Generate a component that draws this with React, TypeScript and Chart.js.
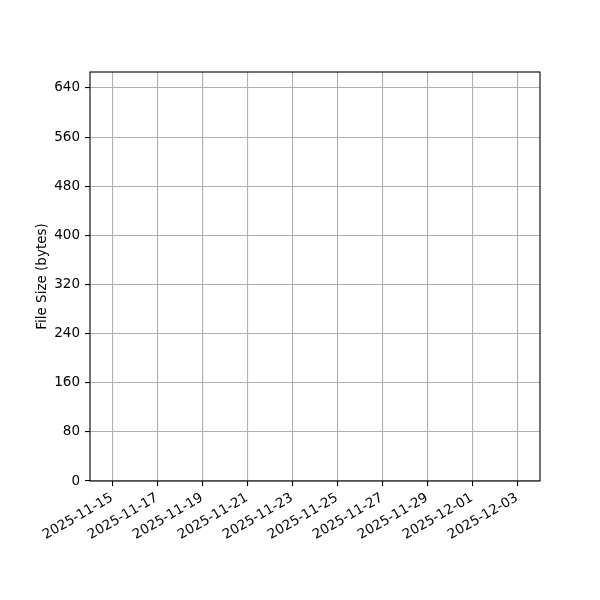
import React, { useEffect, useRef } from 'react';
import { Chart, registerables } from 'chart.js';

Chart.register(...registerables);

// The reference plot is empty: axes and grid only, no points.
const fileDates: string[] = [];
const fileSizes: number[] = [];

const baseDate = '2025-11-15';
const xTickDates = [
    '2025-11-15', '2025-11-17', '2025-11-19', '2025-11-21', '2025-11-23',
    '2025-11-25', '2025-11-27', '2025-11-29', '2025-12-01', '2025-12-03',
];
const yTickValues = [0, 80, 160, 240, 320, 400, 480, 560, 640];

// axis limits, in days from baseDate and in bytes
const xMinDays = -0.98;
const xMaxDays = 19.02;
const yMaxBytes = 666;

const dayOffset = (d: string) => (Date.parse(d) - Date.parse(baseDate)) / 86400000;

const FONT = 'DejaVu Sans';

// matplotlib draws all four spines
const framePlugin = {
    id: 'frame',
    afterDraw(chart: any) {
        const { ctx, chartArea: a } = chart;
        ctx.save();
        ctx.strokeStyle = '#000';
        ctx.lineWidth = 1.1;
        ctx.strokeRect(a.left, a.top, a.right - a.left, a.bottom - a.top);
        ctx.restore();
    },
};

const App: React.FC = () => {
    const canvasRef = useRef<HTMLCanvasElement>(null);
    const chartRef = useRef<Chart | null>(null);

    useEffect(() => {
        if (!canvasRef.current) return;
        if (chartRef.current) chartRef.current.destroy();

        const points = fileDates.map((d, i) => ({ x: dayOffset(d), y: fileSizes[i] }));

        chartRef.current = new Chart(canvasRef.current, {
            type: 'line',
            data: {
                datasets: [{
                    label: 'File Size',
                    data: points,
                    borderColor: '#1f77b4',
                    backgroundColor: '#1f77b4',
                }],
            },
            options: {
                animation: false,
                responsive: true,
                maintainAspectRatio: false,
                layout: { padding: { top: 72, right: 60, left: 0, bottom: 0 } },
                plugins: {
                    legend: { display: false },
                    tooltip: { enabled: false },
                },
                scales: {
                    x: {
                        type: 'linear',
                        min: xMinDays,
                        max: xMaxDays,
                        border: { display: false },
                        grid: {
                            color: '#b0b0b0',
                            lineWidth: 1.1,
                            tickColor: '#000',
                            tickLength: 5,
                            tickWidth: 1.1,
                        },
                        afterBuildTicks: (scale: any) => {
                            scale.ticks = xTickDates.map(d => ({ value: dayOffset(d) }));
                        },
                        afterFit: (scale: any) => { scale.height = 119; },
                        ticks: {
                            autoSkip: false,
                            minRotation: 30,
                            maxRotation: 30,
                            padding: 4,
                            color: '#000',
                            font: { family: FONT, size: 13.5 },
                            callback: (_v: any, i: number) => xTickDates[i],
                        },
                    },
                    y: {
                        type: 'linear',
                        min: 0,
                        max: yMaxBytes,
                        border: { display: false },
                        grid: {
                            color: '#b0b0b0',
                            lineWidth: 1.1,
                            tickColor: '#000',
                            tickLength: 5,
                            tickWidth: 1.1,
                        },
                        afterBuildTicks: (scale: any) => {
                            scale.ticks = yTickValues.map(v => ({ value: v }));
                        },
                        afterFit: (scale: any) => { scale.width = 90; },
                        ticks: {
                            padding: 5,
                            color: '#000',
                            font: { family: FONT, size: 13.5 },
                            callback: (v: any) => String(v),
                        },
                        title: {
                            display: true,
                            text: 'File Size (bytes)',
                            color: '#000',
                            font: { family: FONT, size: 13.5 },
                            padding: { top: 34, bottom: 0 },
                        },
                    },
                },
            },
            plugins: [framePlugin],
        });

        return () => {
            if (chartRef.current) {
                chartRef.current.destroy();
                chartRef.current = null;
            }
        };
    }, []);

    return (
        <div style={{ position: 'fixed', left: 0, top: 0, width: 600, height: 600, background: '#fff' }}>
            <canvas ref={canvasRef}></canvas>
        </div>
    );
};

export default App;
